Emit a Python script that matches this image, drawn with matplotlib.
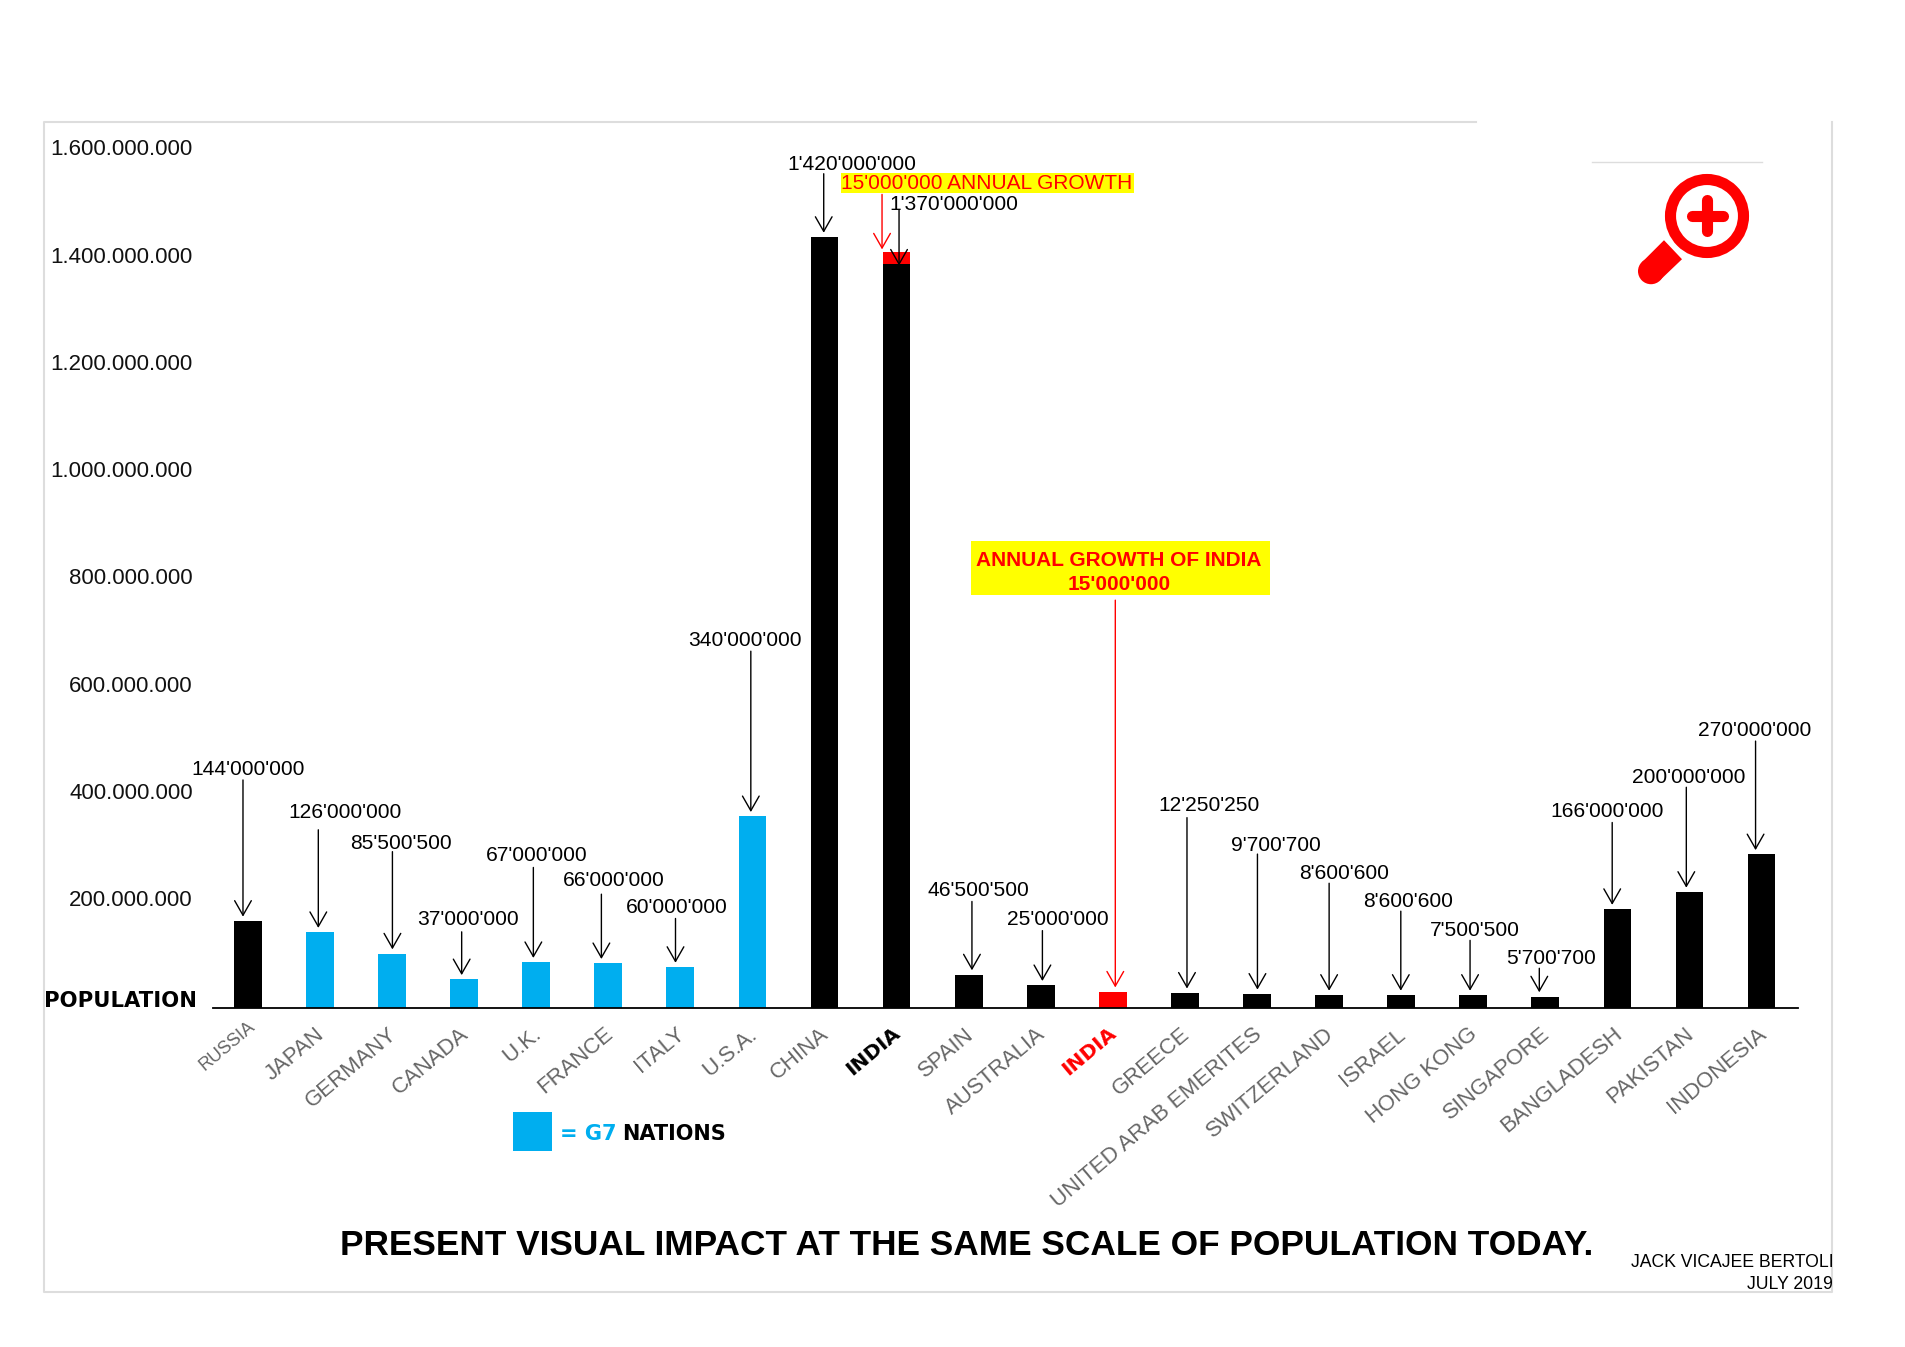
import matplotlib
matplotlib.use("Agg")
import matplotlib.pyplot as plt
from matplotlib.patches import Circle, Polygon, Rectangle
from matplotlib.ticker import FuncFormatter
from matplotlib.transforms import ScaledTranslation

# data
countries = ["RUSSIA", "JAPAN", "GERMANY", "CANADA", "U.K.", "FRANCE", "ITALY", "U.S.A.", "CHINA", "INDIA",
             "SPAIN", "AUSTRALIA", "INDIA", "GREECE", "UNITED ARAB EMERITES", "SWITZERLAND", "ISRAEL",
             "HONG KONG", "SINGAPORE", "BANGLADESH", "PAKISTAN", "INDONESIA"]
# bar heights as drawn in the picture, these are bigger than the printed labels
population = [163e6, 142e6, 102e6, 54e6, 86e6, 84e6, 77e6, 358e6, 1438e6, 1388e6,
              63e6, 43e6, 31e6, 29e6, 27e6, 25e6, 25e6, 25e6, 22e6, 185e6, 217e6, 287e6]
value_labels = ["144'000'000", "126'000'000", "85'500'500", "37'000'000", "67'000'000", "66'000'000",
                "60'000'000", "340'000'000", "1'420'000'000", "1'370'000'000", "46'500'500", "25'000'000",
                None, "12'250'250", "9'700'700", "8'600'600", "8'600'600", "7'500'500", "5'700'700",
                "166'000'000", "200'000'000", "270'000'000"]
g7 = ["JAPAN", "GERMANY", "CANADA", "U.K.", "FRANCE", "ITALY", "U.S.A."]
india_growth = 23e6
yticks = [200e6, 400e6, 600e6, 800e6, 1000e6, 1200e6, 1400e6, 1600e6]

BLUE = "#00AEEF"
RED = "#FF0000"
GRAY = "#DDDDDD"
SANS = "Liberation Sans"

# the layout numbers below at 1568 wide
S = 1905 / 1568
W, H = 1905, 1347

# arrow x, arrow tail y, label centre x, label centre y
layout = [(200, 642, 204, 632), (262, 683, 284, 668), (323, 701, 330, 693), (380, 767, 385, 756),
          (439, 714, 442, 703), (495, 736, 505, 724), (556, 756, 557, 746), (618, 536, 613, 526),
          (678, 143, 701, 134), (740, 173, 785, 167), (800, 742, 805, 732), (858, 766, 871, 756),
          (918, 494, 0, 0), (977, 673, 995, 662), (1035, 703, 1050, 695), (1094, 727, 1106, 718),
          (1153, 750, 1159, 741), (1210, 774, 1214, 765), (1267, 797, 1277, 788), (1327, 677, 1323, 667),
          (1388, 648, 1390, 639), (1445, 610, 1444, 600)]

fig = plt.figure(figsize=(W / 100, H / 100), dpi=100, facecolor="white")

# overlay in reference pixels for frame, icon and free text
ov = fig.add_axes([0, 0, 1, 1], zorder=0)
ov.set_xlim(0, 1568)
ov.set_ylim(H / S - 1, -1)
ov.axis("off")

left, right, top, base = 175, 1480, 101, 830
ax = fig.add_axes([left * S / W, 1 - base * S / H, (right - left) * S / W, (base - top) * S / H], zorder=1)
ax.patch.set_alpha(0)
ax.set_xlim((left - 204) / 59.33, (right - 204) / 59.33)
ax.set_ylim(0, (base - top) / 88.3 * 200e6)


def to_data(px, py):
    return (px - 204) / 59.33, (base - py) / 88.3 * 200e6


colors = []
for i, c in enumerate(countries):
    if c in g7:
        colors.append(BLUE)
    elif c == "INDIA" and i == 12:
        colors.append(RED)
    else:
        colors.append("black")

ax.bar(range(len(countries)), population, width=0.385, color=colors, zorder=2)
ax.bar(9, india_growth, bottom=population[9], width=0.385, color=RED, zorder=2)

for s in ["top", "left", "right"]:
    ax.spines[s].set_visible(False)
ax.spines["bottom"].set_linewidth(1.3)

ax.set_yticks(yticks)
ax.yaxis.set_major_formatter(FuncFormatter(lambda v, p: f"{int(v):,}".replace(",", ".")))
ax.tick_params(axis="y", length=0, pad=14.2, labelsize=16)
for t in ax.get_yticklabels():
    t.set_fontfamily(SANS)
    t.set_color("#111111")
    t.set_transform(t.get_transform() + ScaledTranslation(0, 2 / 72, fig.dpi_scale_trans))

ax.set_xticks(range(len(countries)))
ax.set_xticklabels(countries, rotation=40, ha="right", rotation_mode="anchor", family=SANS,
                   fontsize=15.9, color="#666666")
ax.tick_params(axis="x", length=0, pad=11)
for i, t in enumerate(ax.get_xticklabels()):
    dx, dy = -3.5, 0
    if i == 0:
        # russia sits a bit higher and smaller in the original
        t.set_fontsize(13)
        dx, dy = 0, 4
    if i == 9 or i == 12:
        t.set_fontfamily("DejaVu Sans")
        t.set_fontweight("bold")
        t.set_fontsize(14.5)
        t.set_color("black" if i == 9 else RED)
    t.set_transform(t.get_transform() + ScaledTranslation(dx / 72, dy / 72, fig.dpi_scale_trans))

# value arrows
for i, lab in enumerate(value_labels):
    ax_x, tail_y, tx, ty = layout[i]
    col = "black" if lab else RED
    x0, y0 = to_data(ax_x, tail_y)
    tip = population[i] + 8e6
    if i == 9:
        tip = population[i] - 3e6
    ax.annotate("", xy=(x0, tip), xytext=(x0, y0),
                arrowprops=dict(arrowstyle="->,head_length=1.05,head_width=0.6", mutation_scale=10,
                                color=col, lw=1.0, shrinkA=0, shrinkB=0), zorder=4, annotation_clip=False)
    if lab:
        ov.text(tx, ty, lab, ha="center", va="center", family=SANS, fontsize=15.1, color="black", zorder=5)

# red growth arrow on india
x0, y0 = to_data(726, 160)
ax.annotate("", xy=(x0, population[9] + india_growth + 4e6), xytext=(x0, y0),
            arrowprops=dict(arrowstyle="->,head_length=1.05,head_width=0.6", mutation_scale=10,
                            color=RED, lw=1.0, shrinkA=0, shrinkB=0), zorder=4, annotation_clip=False)

# frame
frame_x = [1215, 36, 36, 1508, 1508]
frame_y = [99.5, 99.5, 1062.5, 1062.5, 99.5]
ov.plot(frame_x, frame_y, color=GRAY, lw=1.5)
ov.plot([1310, 1450], [132.5, 132.5], color=GRAY, lw=1.0)

# yellow notes
ov.add_patch(Rectangle((692, 141.5), 241, 16, color="yellow", lw=0, zorder=1))
ov.text(812, 150, "15'000'000 ANNUAL GROWTH", ha="center", va="center", family=SANS, fontsize=15, color=RED, zorder=5)
ov.add_patch(Rectangle((799, 444.5), 246, 44, color="yellow", lw=0, zorder=1))
ov.text(921, 460, "ANNUAL GROWTH OF INDIA", ha="center", va="center", family=SANS, fontsize=15,
        fontweight="bold", color=RED, zorder=5)
ov.text(921, 480, "15'000'000", ha="center", va="center", family=SANS, fontsize=15,
        fontweight="bold", color=RED, zorder=5)

# magnifier icon, reference pixels
cx, cy = 1707 / S, 216 / S - 1
ov.add_patch(Circle((cx, cy), 36.5 / S, fill=False, ec=RED, lw=8.0))
ov.plot([cx - 15.5 / S, cx + 15.5 / S], [cy, cy], color=RED, lw=8, solid_capstyle="round")
ov.plot([cx, cx], [cy - 15.5 / S, cy + 15.5 / S], color=RED, lw=8, solid_capstyle="round")
ov.add_patch(Polygon([(1664 / S, 239 / S), (1682 / S, 258 / S), (1660 / S, 279 / S), (1642 / S, 261 / S)],
                     closed=True, color=RED, lw=0))
ov.add_patch(Circle((1651 / S, 270 / S), 13 / S, color=RED, lw=0))

# legend and other labels
ov.text(36, 823, "POPULATION", ha="left", va="center", family="DejaVu Sans", fontweight="bold", fontsize=15.2)
ov.add_patch(Rectangle((422, 914.5), 32, 32, color=BLUE, lw=0))
ov.text(461, 932, "= G7", ha="left", va="center", family="DejaVu Sans", fontweight="bold", fontsize=15, color=BLUE)
ov.text(512, 932, "NATIONS", ha="left", va="center", family="DejaVu Sans", fontweight="bold", fontsize=15)
ov.text(796, 1024, "PRESENT VISUAL IMPACT AT THE SAME SCALE OF POPULATION TODAY.", ha="center", va="center",
        family=SANS, fontweight="bold", fontsize=25.4)
ov.text(1509, 1038, "JACK VICAJEE BERTOLI", ha="right", va="center", family=SANS, fontsize=12.7)
ov.text(1509, 1056, "JULY 2019", ha="right", va="center", family=SANS, fontsize=12.7)

fig.savefig("out.png", dpi=100)
